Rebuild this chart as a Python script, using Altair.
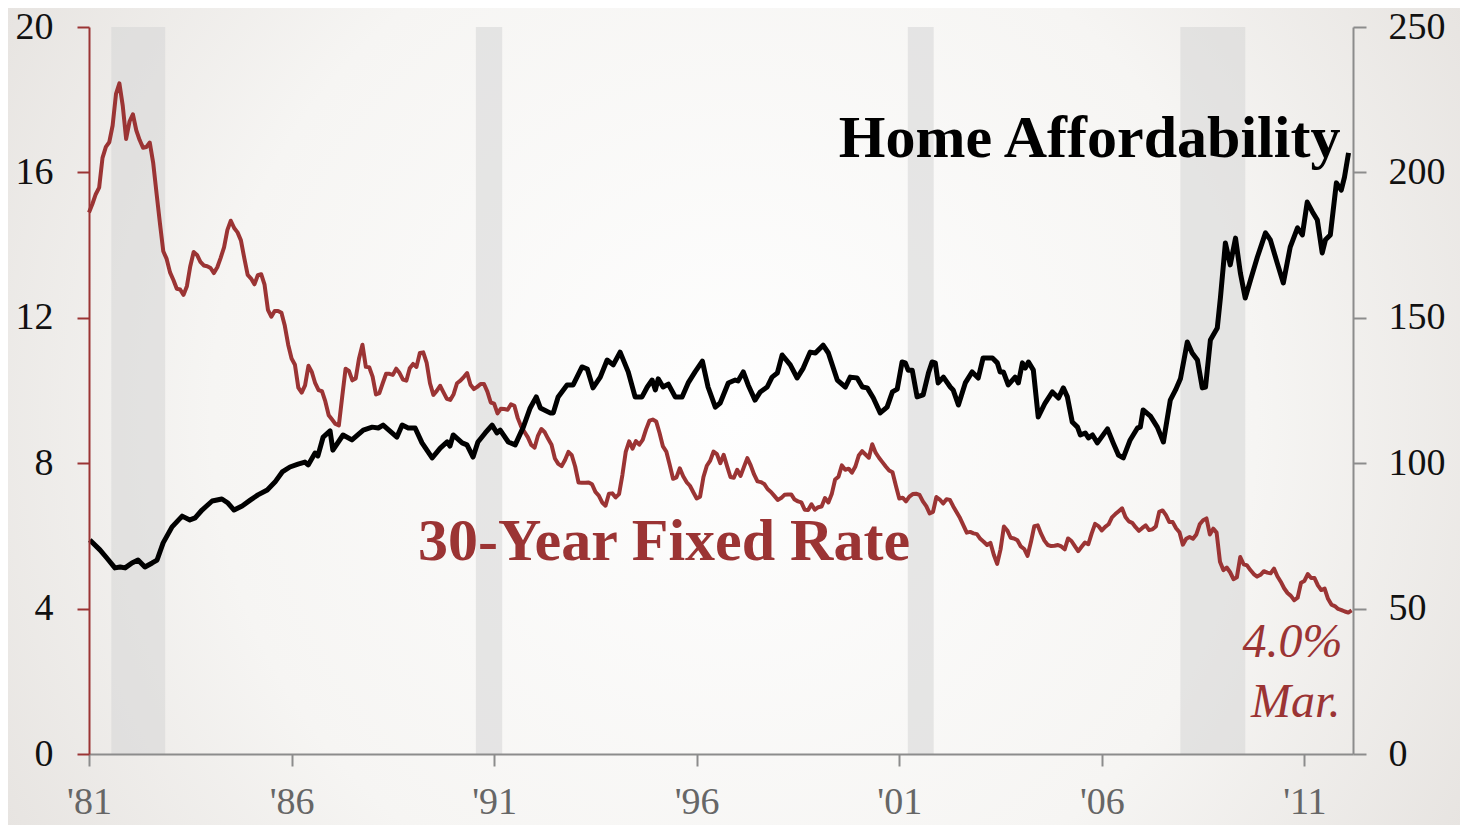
import altair as alt
import pandas as pd

FONT = "Liberation Serif"
RED = "#9b3434"
GREY = "#8c8c8c"

# ---------------- data ----------------
# 30-year fixed mortgage rate, monthly, Jan 1981 .. Mar 2012 (%)
rate_start_year = 1981
rate_values = [
    14.90, 15.13, 15.40, 15.58, 16.40, 16.70, 16.83, 17.29, 18.16, 18.45, 17.83, 16.92,  # 1981
    17.40, 17.60, 17.16, 16.89, 16.68, 16.70, 16.82, 16.27, 15.43, 14.61, 13.83, 13.62,  # 1982
    13.25, 13.04, 12.80, 12.78, 12.63, 12.87, 13.42, 13.81, 13.73, 13.54, 13.44, 13.42,  # 1983
    13.37, 13.23, 13.39, 13.65, 13.94, 14.42, 14.67, 14.47, 14.35, 14.13, 13.64, 13.18,  # 1984
    13.08, 12.92, 13.17, 13.20, 12.91, 12.22, 12.03, 12.19, 12.19, 12.14, 11.78, 11.26,  # 1985
    10.88, 10.71, 10.08, 9.94, 10.14, 10.68, 10.51, 10.20, 10.01, 9.98, 9.70, 9.32,      # 1986
    9.20, 9.08, 9.04, 9.83, 10.60, 10.54, 10.28, 10.33, 10.89, 11.26, 10.65, 10.64,      # 1987
    10.38, 9.89, 9.93, 10.20, 10.46, 10.46, 10.43, 10.60, 10.48, 10.30, 10.27, 10.61,    # 1988
    10.73, 10.65, 11.03, 11.05, 10.77, 10.20, 9.88, 9.99, 10.13, 9.95, 9.77, 9.74,       # 1989
    9.90, 10.20, 10.27, 10.37, 10.48, 10.16, 10.04, 10.10, 10.18, 10.18, 9.97, 9.67,     # 1990
    9.64, 9.37, 9.50, 9.49, 9.47, 9.62, 9.58, 9.24, 9.01, 8.86, 8.71, 8.50,              # 1991
    8.43, 8.76, 8.94, 8.85, 8.67, 8.51, 8.13, 7.98, 7.92, 8.09, 8.31, 8.22,              # 1992
    7.91, 7.47, 7.46, 7.46, 7.47, 7.42, 7.21, 7.11, 6.92, 6.83, 7.16, 7.17,              # 1993
    7.06, 7.15, 7.68, 8.32, 8.60, 8.40, 8.61, 8.51, 8.64, 8.93, 9.17, 9.20,              # 1994
    9.15, 8.83, 8.46, 8.32, 7.96, 7.57, 7.61, 7.86, 7.64, 7.48, 7.38, 7.20,              # 1995
    7.03, 7.08, 7.62, 7.93, 8.07, 8.32, 8.25, 8.00, 8.23, 7.92, 7.62, 7.60,              # 1996
    7.82, 7.65, 7.90, 8.14, 7.94, 7.69, 7.50, 7.48, 7.43, 7.29, 7.21, 7.10,              # 1997
    6.99, 7.04, 7.13, 7.14, 7.14, 7.00, 6.95, 6.92, 6.72, 6.71, 6.87, 6.72,              # 1998
    6.79, 6.81, 7.04, 6.92, 7.15, 7.55, 7.63, 7.94, 7.82, 7.85, 7.74, 7.91,              # 1999
    8.21, 8.33, 8.24, 8.15, 8.52, 8.29, 8.15, 8.03, 7.91, 7.80, 7.75, 7.38,              # 2000
    7.03, 7.05, 6.95, 7.08, 7.15, 7.16, 7.13, 6.95, 6.82, 6.62, 6.66, 7.07,              # 2001
    7.00, 6.89, 7.01, 6.99, 6.81, 6.65, 6.49, 6.29, 6.09, 6.11, 6.07, 6.05,              # 2002
    5.92, 5.84, 5.75, 5.81, 5.48, 5.23, 5.63, 6.26, 6.15, 5.95, 5.93, 5.88,              # 2003
    5.71, 5.64, 5.45, 5.83, 6.27, 6.29, 6.06, 5.87, 5.75, 5.72, 5.73, 5.75,              # 2004
    5.71, 5.63, 5.93, 5.86, 5.72, 5.58, 5.70, 5.82, 5.77, 6.07, 6.33, 6.27,              # 2005
    6.15, 6.25, 6.32, 6.51, 6.60, 6.68, 6.76, 6.52, 6.40, 6.36, 6.24, 6.14,              # 2006
    6.22, 6.29, 6.16, 6.18, 6.26, 6.66, 6.70, 6.57, 6.38, 6.38, 6.21, 6.10,              # 2007
    5.76, 5.92, 5.97, 5.92, 6.04, 6.32, 6.43, 6.48, 6.04, 6.20, 6.09, 5.29,              # 2008
    5.06, 5.13, 5.00, 4.81, 4.86, 5.42, 5.22, 5.19, 5.06, 4.95, 4.88, 4.93,              # 2009
    5.03, 4.99, 4.97, 5.10, 4.89, 4.74, 4.56, 4.43, 4.35, 4.23, 4.30, 4.71,              # 2010
    4.76, 4.95, 4.84, 4.84, 4.64, 4.51, 4.55, 4.27, 4.11, 4.07, 3.99, 3.96,              # 2011
    3.92, 3.89, 3.95,                                                                    # 2012
]

# Home affordability index
afford_years = [
    1981.02, 1981.27, 1981.44, 1981.64, 1981.77, 1981.89, 1982.06, 1982.21, 1982.38, 1982.56,
    1982.68, 1982.83, 1983.05, 1983.30, 1983.49, 1983.62, 1983.79, 1984.04, 1984.28, 1984.43,
    1984.58, 1984.78, 1984.98, 1985.17, 1985.40, 1985.59, 1985.77, 1985.96, 1986.16, 1986.33,
    1986.41, 1986.58, 1986.65, 1986.78, 1986.95, 1987.02, 1987.27, 1987.49, 1987.77, 1987.99,
    1988.14, 1988.26, 1988.60, 1988.73, 1988.88, 1989.05, 1989.22, 1989.47, 1989.67, 1989.84,
    1989.91, 1989.99, 1990.21, 1990.33, 1990.48, 1990.60, 1990.78, 1990.95, 1991.07, 1991.15,
    1991.35, 1991.52, 1991.72, 1991.89, 1992.04, 1992.14, 1992.38, 1992.46, 1992.58, 1992.80,
    1992.95, 1993.17, 1993.30, 1993.44, 1993.62, 1993.79, 1993.94, 1994.11, 1994.31, 1994.48,
    1994.65, 1994.78, 1994.90, 1994.98, 1995.05, 1995.17, 1995.30, 1995.47, 1995.64, 1995.79,
    1995.96, 1996.14, 1996.28, 1996.46, 1996.58, 1996.78, 1996.95, 1997.02, 1997.15, 1997.27,
    1997.44, 1997.57, 1997.74, 1997.86, 1997.99, 1998.11, 1998.31, 1998.48, 1998.63, 1998.80,
    1998.93, 1999.12, 1999.25, 1999.47, 1999.67, 1999.79, 1999.96, 2000.09, 2000.21, 2000.36,
    2000.53, 2000.70, 2000.83, 2000.95, 2001.07, 2001.15, 2001.22, 2001.32, 2001.44, 2001.59,
    2001.72, 2001.81, 2001.89, 2001.96, 2002.09, 2002.26, 2002.33, 2002.46, 2002.63, 2002.80,
    2002.95, 2003.07, 2003.30, 2003.42, 2003.49, 2003.57, 2003.69, 2003.86, 2003.94, 2004.04,
    2004.11, 2004.19, 2004.31, 2004.43, 2004.60, 2004.78, 2004.93, 2005.05, 2005.15, 2005.27,
    2005.40, 2005.47, 2005.59, 2005.67, 2005.77, 2005.89, 2006.14, 2006.28, 2006.41, 2006.53,
    2006.70, 2006.88, 2006.95, 2007.02, 2007.20, 2007.37, 2007.52, 2007.69, 2007.82, 2007.94,
    2008.11, 2008.23, 2008.36, 2008.48, 2008.56, 2008.68, 2008.85, 2008.93, 2009.05, 2009.17,
    2009.30, 2009.42, 2009.54, 2009.67, 2009.84, 2010.04, 2010.16, 2010.33, 2010.48, 2010.65,
    2010.83, 2010.95, 2011.07, 2011.20, 2011.32, 2011.44, 2011.52, 2011.64, 2011.79, 2011.91,
    2011.99, 2012.09,
]
afford_values = [
    73.6, 70.2, 67.4, 64.0, 64.3, 64.0, 65.7, 66.7, 64.3, 65.7,
    66.7, 72.6, 78.1, 81.8, 80.5, 81.2, 83.9, 87.0, 87.7, 86.3,
    83.9, 85.3, 87.3, 89.1, 90.8, 93.5, 97.0, 98.7, 99.7, 100.4,
    99.4, 103.5, 102.5, 109.0, 111.1, 104.5, 109.7, 108.0, 111.4, 112.4,
    112.1, 113.1, 109.0, 113.1, 112.1, 112.1, 107.0, 101.8, 105.2, 107.3,
    105.9, 109.7, 107.0, 106.3, 102.1, 107.3, 110.4, 113.1, 110.4, 111.4,
    107.3, 106.3, 112.4, 119.0, 122.8, 119.0, 117.3, 117.3, 122.8, 126.9,
    126.9, 133.1, 132.4, 125.9, 129.6, 135.5, 133.8, 138.2, 131.4, 122.8,
    122.8, 126.2, 128.6, 125.2, 129.0, 126.2, 127.2, 122.8, 122.8, 127.6,
    131.4, 135.1, 126.2, 119.3, 120.7, 127.6, 128.6, 128.3, 131.4, 126.9,
    121.7, 124.5, 126.2, 129.6, 131.0, 137.2, 133.8, 129.3, 132.7, 138.2,
    137.9, 140.6, 137.9, 128.6, 126.2, 129.6, 129.3, 126.2, 125.9, 122.4,
    117.3, 119.3, 124.5, 125.5, 134.8, 134.5, 132.0, 132.0, 122.8, 123.5,
    131.0, 134.8, 134.5, 127.6, 129.6, 126.2, 125.2, 120.0, 127.6, 131.4,
    129.3, 136.2, 136.2, 134.5, 131.4, 131.4, 126.9, 129.6, 127.6, 134.5,
    132.7, 134.8, 132.0, 115.9, 120.7, 124.5, 122.4, 125.9, 122.8, 114.2,
    112.4, 109.7, 110.4, 108.7, 109.7, 107.0, 111.8, 107.0, 102.8, 101.8,
    108.0, 112.1, 112.4, 118.3, 116.2, 112.4, 107.3, 121.7, 125.2, 129.0,
    141.7, 137.9, 135.5, 125.9, 126.2, 142.4, 146.5, 157.2, 175.7, 168.2,
    177.4, 165.4, 156.8, 163.0, 170.9, 179.2, 176.8, 168.8, 162.0, 174.3,
    180.9, 178.5, 189.8, 186.4, 183.6, 172.3, 176.8, 178.5, 196.4, 193.9,
    198.4, 206.7,
]

# recessions (shaded)
rec_start = [1981.55, 1990.55, 2001.21, 2007.94]
rec_end = [1982.88, 1991.20, 2001.85, 2009.54]

# axes
x_domain = [1981, 2012.2]
x_ticks = [1981, 1986, 1991, 1996, 2001, 2006, 2011]
x_tick_labels = ["'81", "'86", "'91", "'96", "'01", "'06", "'11"]
left_domain = [0, 20]
left_ticks = [0, 4, 8, 12, 16, 20]
right_domain = [0, 250]
right_ticks = [0, 50, 100, 150, 200, 250]

# annotations: text, x (year), y (left-axis units)
title_rate = ("30-Year Fixed Rate", 1989.12, 5.34)
title_afford = ("Home Affordability", 2011.89, 16.42)
note_rate = ("4.0%", 2011.94, 2.67)
note_month = ("Mar.", 2011.89, 1.02)

# ---------------- tables ----------------
rate_df = pd.DataFrame({
    "year": [rate_start_year + i / 12 for i in range(len(rate_values))],
    "rate": rate_values,
})
afford_df = pd.DataFrame({"year": afford_years, "index": afford_values})
rec_df = pd.DataFrame({"start": rec_start, "end": rec_end})

W, H = 1264, 727
PAD = {"left": 81, "top": 19, "right": 107, "bottom": 71}
LABEL_SIZE = 38

label_expr = "".join(
    f'datum.value == {y} ? "{l}" : ' for y, l in zip(x_ticks, x_tick_labels)
) + '""'

xscale = alt.Scale(domain=x_domain, nice=False, zero=False)
x_axis = alt.Axis(
    orient="bottom", values=x_ticks, labelExpr=label_expr, title=None, grid=False,
    domainColor=GREY, tickColor=GREY, domainWidth=2, tickWidth=2, tickSize=12,
    labelColor="#666666", labelFont=FONT, labelFontSize=LABEL_SIZE, labelPadding=17,
    labelFlush=False, labelOverlap=False, zindex=1,
)

# background vignette
bg = alt.Chart(pd.DataFrame({"a": [0]})).mark_rect(
    color=alt.Gradient(
        gradient="radial",
        stops=[
            alt.GradientStop(offset=0, color="#fefefe"),
            alt.GradientStop(offset=0.5, color="#f6f5f3"),
            alt.GradientStop(offset=0.8, color="#e7e4e1"),
            alt.GradientStop(offset=1, color="#d5d1cc"),
        ],
        x1=0.5, y1=0.5, r1=0, x2=0.5, y2=0.5, r2=0.72,
    )
).encode(
    x=alt.value(-PAD["left"]), x2=alt.value(W + PAD["right"]),
    y=alt.value(-PAD["top"]), y2=alt.value(H + PAD["bottom"]),
)

bands = alt.Chart(rec_df).mark_rect(color="#d6d6d6", opacity=0.55).encode(
    x=alt.X("start:Q", scale=xscale, axis=x_axis),
    x2="end:Q",
    y=alt.value(0), y2=alt.value(H),
)

rate_line = alt.Chart(rate_df).mark_line(color=RED, strokeWidth=4, strokeJoin="round").encode(
    x=alt.X("year:Q", scale=xscale, axis=x_axis),
    y=alt.Y("rate:Q", scale=alt.Scale(domain=left_domain, nice=False, zero=True),
            axis=alt.Axis(orient="left", values=left_ticks, title=None, grid=False,
                          domainColor=RED, tickColor=RED, domainWidth=2, tickWidth=2,
                          tickSize=12, labelColor="#111111", labelFont=FONT,
                          labelFontSize=LABEL_SIZE, labelPadding=24, zindex=1)),
)

afford_line = alt.Chart(afford_df).mark_line(color="#000000", strokeWidth=5, strokeJoin="round").encode(
    x=alt.X("year:Q", scale=xscale, axis=x_axis),
    y=alt.Y("index:Q", scale=alt.Scale(domain=right_domain, nice=False, zero=True),
            axis=alt.Axis(orient="right", values=right_ticks, title=None, grid=False,
                          domainColor=GREY, tickColor=GREY, domainWidth=2, tickWidth=2,
                          tickSize=13, labelColor="#111111", labelFont=FONT,
                          labelFontSize=LABEL_SIZE, labelPadding=22, zindex=1)),
)


def text_layer(item, color, align, size, weight="normal", style="normal"):
    t, xv, yv = item
    df = pd.DataFrame({"label": [t], "x": [xv], "y": [yv]})
    return alt.Chart(df).mark_text(
        color=color, align=align, baseline="alphabetic", font=FONT,
        fontSize=size, fontWeight=weight, fontStyle=style,
    ).encode(
        x=alt.X("x:Q", scale=xscale, axis=x_axis),
        y=alt.Y("y:Q", scale=alt.Scale(domain=left_domain, nice=False), axis=None),
        text="label:N",
    )


t1 = text_layer(title_rate, RED, "left", 60, weight="bold")
t2 = text_layer(title_afford, "#000000", "right", 60, weight="bold")
t3 = text_layer(note_rate, RED, "right", 48, style="italic")
t4 = text_layer(note_month, RED, "right", 48, style="italic")

chart = alt.layer(bg, bands, rate_line, afford_line, t1, t2, t3, t4).resolve_scale(
    y="independent"
).properties(
    width=W, height=H, padding=PAD,
    autosize=alt.AutoSizeParams(type="none"),
    background="#e4e1dd",
).configure_view(strokeWidth=0)

chart.save("out.html", embed_options={"renderer": "svg", "actions": False})
